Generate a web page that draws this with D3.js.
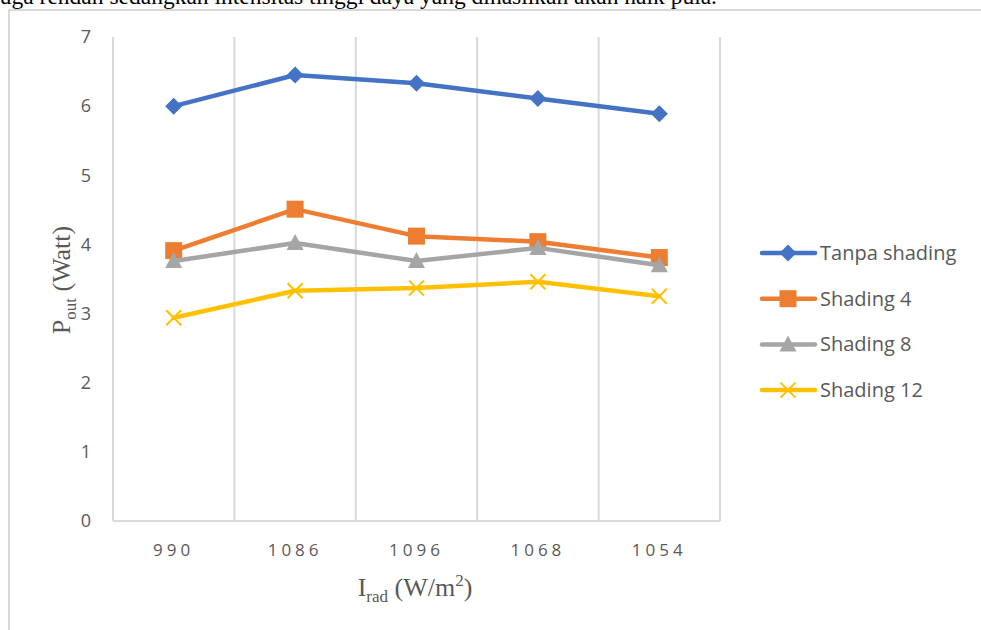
<!DOCTYPE html>
<html><head><meta charset="utf-8">
<script src="https://cdn.jsdelivr.net/npm/d3@7"></script>
<style>body{margin:0;background:#fff;overflow:hidden}svg{display:block}</style>
</head><body>
<svg id="c" width="981" height="630"></svg>
<script>
const categories = ["990","1086","1096","1068","1054"];
const tanpaShading = [6.00, 6.45, 6.33, 6.11, 5.89];
const shading4 = [3.91, 4.51, 4.12, 4.04, 3.81];
const shading8 = [3.76, 4.02, 3.76, 3.95, 3.70];
const shading12 = [2.94, 3.33, 3.37, 3.46, 3.25];
const seriesNames = ["Tanpa shading","Shading 4","Shading 8","Shading 12"];
const yTicks = [0,1,2,3,4,5,6,7];

const series = [
  {name: seriesNames[0], values: tanpaShading, color: "#4472C4", marker: "diamond"},
  {name: seriesNames[1], values: shading4, color: "#ED7D31", marker: "square"},
  {name: seriesNames[2], values: shading8, color: "#A5A5A5", marker: "triangle"},
  {name: seriesNames[3], values: shading12, color: "#FFC000", marker: "x"}
];

const svg = d3.select("#c");
// top cut-off paragraph text (cut at the page edge as in the source image)
svg.append("text").attr("x", 717).attr("y", 4).attr("text-anchor", "end")
  .attr("font-family", "Liberation Serif").attr("font-size", 23.5).attr("fill", "#000")
  .text("juga rendah sedangkan intensitas tinggi daya yang dihasilkan akan naik pula.");
// chart frame
svg.append("rect").attr("x", 9).attr("y", 10).attr("width", 1000).attr("height", 640)
  .attr("fill", "#fff").attr("stroke", "#d9d9d9").attr("stroke-width", 2);

const pLeft = 113, pRight = 720, pTop = 37, pBottom = 521;
const x = d3.scaleBand().domain(categories).range([pLeft, pRight]);
const y = d3.scaleLinear().domain([0, 7]).range([pBottom, pTop]);

// vertical gridlines at category boundaries
const bounds = categories.map(c => x(c)).concat([pRight]);
svg.append("g").selectAll("line").data(bounds).join("line")
  .attr("x1", d => d).attr("x2", d => d).attr("y1", pTop).attr("y2", pBottom)
  .attr("stroke", "#d9d9d9").attr("stroke-width", 2);
// x axis line
svg.append("line").attr("x1", pLeft).attr("x2", pRight).attr("y1", pBottom).attr("y2", pBottom)
  .attr("stroke", "#d9d9d9").attr("stroke-width", 2);

// y tick labels
const yAxis = d3.axisLeft(y).tickValues(yTicks).tickFormat(d3.format("d")).tickSize(0).tickPadding(0);
const gy = svg.append("g").attr("transform", `translate(${pLeft - 22},0)`).call(yAxis);
gy.select(".domain").remove();
gy.selectAll("text").attr("font-family", "Open Sans").attr("font-size", 18).attr("fill", "#595959");

// x tick labels
const xAxis = d3.axisBottom(x).tickSize(0).tickPadding(0);
const gx = svg.append("g").attr("transform", `translate(0,${pBottom + 23})`).call(xAxis);
gx.select(".domain").remove();
gx.selectAll("text").attr("font-family", "Open Sans").attr("font-size", 17).attr("fill", "#595959")
  .attr("letter-spacing", "4px").attr("dx", "0px");

// axis titles
const yt = svg.append("text").attr("transform", "translate(70,280) rotate(-90)")
  .attr("text-anchor", "middle").attr("font-family", "Liberation Serif").attr("font-size", 26).attr("fill", "#595959");
yt.append("tspan").text("P");
yt.append("tspan").attr("font-size", 17).attr("dy", 6).text("out");
yt.append("tspan").attr("dy", -6).text(" (Watt)");

const xt = svg.append("text").attr("x", 415).attr("y", 596)
  .attr("text-anchor", "middle").attr("font-family", "Liberation Serif").attr("font-size", 26).attr("fill", "#595959");
xt.append("tspan").text("I");
xt.append("tspan").attr("font-size", 17).attr("dy", 6).text("rad");
xt.append("tspan").attr("dy", -6).text(" (W/m");
xt.append("tspan").attr("font-size", 17).attr("dy", -10).text("2");
xt.append("tspan").attr("dy", 10).text(")");

function drawMarker(g, type, color, cx, cy) {
  if (type === "diamond") {
    g.append("path").attr("d", `M${cx},${cy - 8.5}L${cx + 8.5},${cy}L${cx},${cy + 8.5}L${cx - 8.5},${cy}Z`).attr("fill", color);
  } else if (type === "square") {
    g.append("rect").attr("x", cx - 8.5).attr("y", cy - 8.5).attr("width", 17).attr("height", 17).attr("fill", color);
  } else if (type === "triangle") {
    g.append("path").attr("d", `M${cx},${cy - 9}L${cx + 8.5},${cy + 7}L${cx - 8.5},${cy + 7}Z`).attr("fill", color);
  } else {
    g.append("path").attr("d", `M${cx - 7.5},${cy - 7.5}L${cx + 7.5},${cy + 7.5}M${cx + 7.5},${cy - 7.5}L${cx - 7.5},${cy + 7.5}`)
      .attr("stroke", color).attr("stroke-width", 2);
  }
}

const line = d3.line().x((d, i) => x(categories[i]) + x.bandwidth() / 2).y(d => y(d));
series.forEach(s => {
  const g = svg.append("g");
  g.append("path").attr("d", line(s.values)).attr("fill", "none")
    .attr("stroke", s.color).attr("stroke-width", 4.5).attr("stroke-linejoin", "round").attr("stroke-linecap", "round");
  s.values.forEach((v, i) => drawMarker(g, s.marker, s.color, x(categories[i]) + x.bandwidth() / 2, y(v)));
});

// legend
series.forEach((s, i) => {
  const ly = 253 + i * 45.7;
  const g = svg.append("g");
  g.append("line").attr("x1", 762).attr("x2", 815).attr("y1", ly).attr("y2", ly)
    .attr("stroke", s.color).attr("stroke-width", 4.5).attr("stroke-linecap", "round");
  drawMarker(g, s.marker, s.color, 788, ly);
  g.append("text").attr("x", 820).attr("y", ly + 7).attr("font-family", "Open Sans")
    .attr("font-size", 20).attr("fill", "#595959").text(s.name);
});
</script>
</body></html>
